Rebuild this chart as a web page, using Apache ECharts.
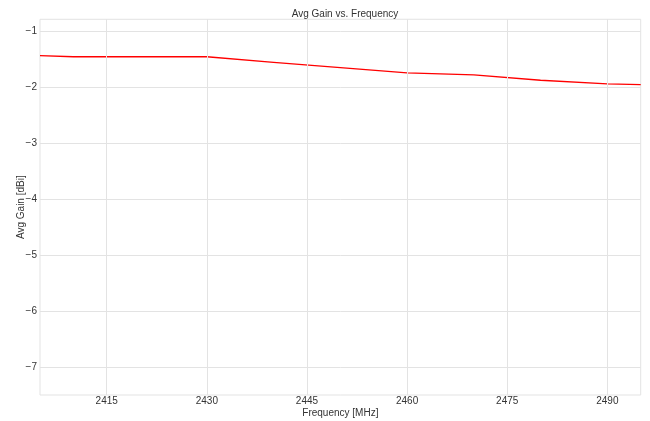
<!DOCTYPE html>
<html>
<head>
<meta charset="utf-8">
<script src="https://cdn.jsdelivr.net/npm/echarts@6/dist/echarts.min.js"></script>
<style>html,body{margin:0;padding:0;background:#fff;}#c{width:650px;height:421px;}</style>
</head>
<body>
<div id="c"></div>
<script>
const freqs = [2405, 2410, 2420, 2430, 2440, 2450, 2460, 2470, 2480, 2490, 2495];
const gains = [-1.43, -1.45, -1.45, -1.45, -1.55, -1.645, -1.74, -1.775, -1.87, -1.935, -1.95];
const xTicks = [2415, 2430, 2445, 2460, 2475, 2490];
const yTicks = [-1, -2, -3, -4, -5, -6, -7];

const FONT = 'Liberation Sans, Arial, sans-serif';
const GRID = '#e3e3e3';
const chart = echarts.init(document.getElementById('c'), null, {renderer: 'canvas'});
const fmt = v => (v < 0 ? '\u2212' + Math.abs(v) : String(v));
const near = (arr, v) => arr.some(t => Math.abs(t - v) < 1e-6);
chart.setOption({
  animation: false,
  backgroundColor: '#ffffff',
  title: {
    text: 'Avg Gain vs. Frequency',
    left: 340, top: 4, textAlign: 'center',
    textStyle: {fontFamily: FONT, fontSize: 10, fontWeight: 'normal', color: '#333'}
  },
  grid: {left: 40, right: 9.3, top: 19.3, bottom: 26, containLabel: false, outerBoundsMode: 'none',
         show: true, borderColor: GRID, borderWidth: 1, backgroundColor: 'transparent'},
  xAxis: {
    type: 'value', min: 2405, max: 2495, interval: 5,
    name: 'Frequency [MHz]', nameLocation: 'middle', nameGap: 13, nameMoveOverlap: false,
    nameTextStyle: {fontFamily: FONT, fontSize: 10, color: '#333'},
    axisLine: {show: false}, axisTick: {show: false},
    axisLabel: {
      fontFamily: FONT, fontSize: 10, color: '#333', margin: 1.5, hideOverlap: false,
      formatter: v => near(xTicks, v) ? String(v) : ''
    },
    splitLine: {show: false}
  },
  yAxis: {
    type: 'value', min: -7.5, max: -0.78, interval: 0.5,
    name: 'Avg Gain [dBi]', nameLocation: 'middle', nameGap: 13.5, nameRotate: 90, nameMoveOverlap: false,
    nameTextStyle: {fontFamily: FONT, fontSize: 10, color: '#333'},
    axisLine: {show: false}, axisTick: {show: false},
    axisLabel: {
      fontFamily: FONT, fontSize: 10, color: '#333', margin: 3, hideOverlap: false,
      formatter: v => near(yTicks, v) ? fmt(Math.round(v)) : ''
    },
    splitLine: {show: false}
  },
  series: [
    {
      type: 'line', data: [], z: 1, silent: true,
      markLine: {
        silent: true, symbol: ['none', 'none'], label: {show: false},
        lineStyle: {color: GRID, width: 1, type: 'solid'},
        animation: false,
        data: xTicks.map(x => ({xAxis: x})).concat(yTicks.map(y => ({yAxis: y})))
      }
    },
    {
      type: 'line', z: 3,
      data: freqs.map((f, i) => [f, gains[i]]),
      showSymbol: false, symbol: 'none',
      lineStyle: {color: '#ff0000', width: 1.3},
      itemStyle: {color: '#ff0000'}
    }
  ]
});
</script>
</body>
</html>
